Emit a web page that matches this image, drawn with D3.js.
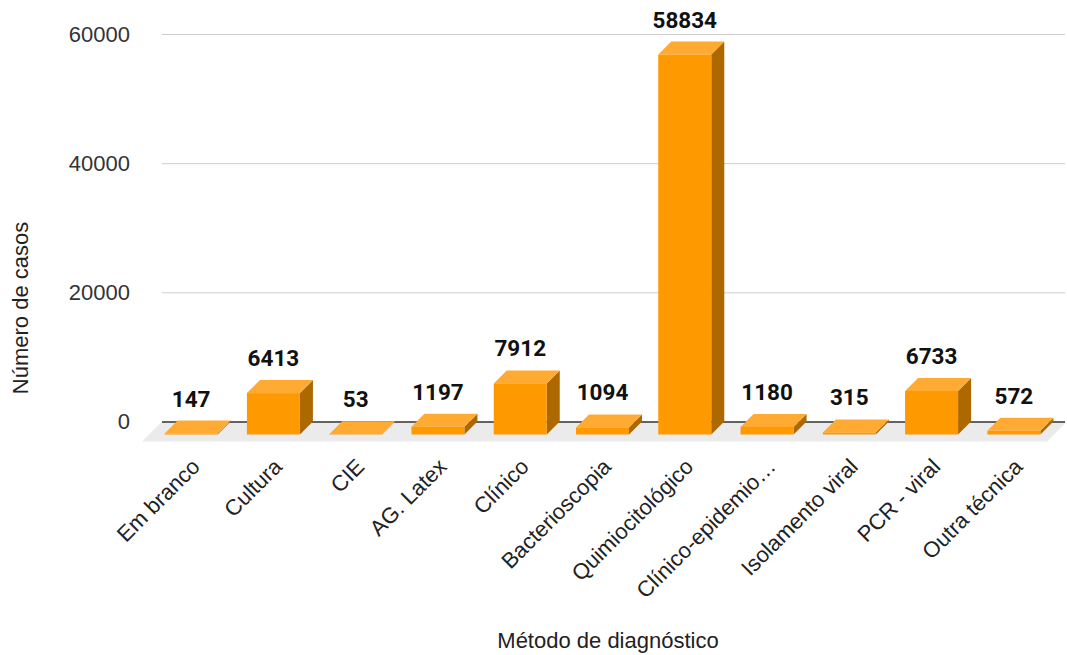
<!DOCTYPE html>
<html>
<head>
<meta charset="utf-8">
<script src="https://cdn.jsdelivr.net/npm/d3@7"></script>
<style>
  body { margin: 0; background: #fff; }
  text { font-family: "Liberation Sans", Arial, sans-serif; }
</style>
</head>
<body>
<div id="chart"></div>
<script>
// data
const categories = ["Em branco", "Cultura", "CIE", "AG. Latex", "Clínico", "Bacterioscopia",
  "Quimiocitológico", "Clínico-epidemio…", "Isolamento viral", "PCR - viral", "Outra técnica"];
const casos = [147, 6413, 53, 1197, 7912, 1094, 58834, 1180, 315, 6733, 572];
const yTicks = [0, 20000, 40000, 60000];

const W = 1067, H = 655;
const plotLeft = 162, plotRight = 1065, plotTop = 34, base = 421.5;
const depth = 13;      // 3D offset of the front face (left and down)
const barW = 53;

const svg = d3.select("#chart").append("svg")
  .attr("width", W).attr("height", H);

const x = d3.scaleBand().domain(categories).range([plotLeft + 1, plotRight + 3]);
const y = d3.scaleLinear().domain([0, 60000]).range([base, plotTop]);

// floor
svg.append("polygon")
  .attr("points", [[plotLeft, base], [W, base], [W - 20, base + 20], [plotLeft - 20, base + 20]].join(" "))
  .style("fill", "#ebebeb");

// gridlines + tick labels
const yAxis = svg.append("g")
  .attr("transform", `translate(${plotLeft},0)`)
  .call(d3.axisLeft(y).tickValues(yTicks).tickFormat(d3.format("d"))
    .tickSize(-(plotRight - plotLeft)).tickPadding(32));
yAxis.select(".domain").remove();
yAxis.selectAll("line").style("stroke", d => d === 0 ? "#333" : "#ccc").style("stroke-width", d => d === 0 ? 1.5 : 1);
yAxis.selectAll("text").style("font-size", "22px").style("fill", "#333");

// bars
const bars = svg.selectAll(".bar").data(casos).enter().append("g").attr("class", "bar");
const bx0 = (d, i) => x(categories[i]) + (x.bandwidth() - barW) / 2;
const bx1 = (d, i) => bx0(d, i) + barW;

bars.append("polygon") // side
  .attr("points", (d, i) => [[bx1(d, i), y(d)], [bx1(d, i), base], [bx1(d, i) - depth, base + depth], [bx1(d, i) - depth, y(d) + depth]].join(" "))
  .style("fill", "#ad6800");
bars.append("polygon") // top
  .attr("points", (d, i) => [[bx0(d, i), y(d)], [bx1(d, i), y(d)], [bx1(d, i) - depth, y(d) + depth], [bx0(d, i) - depth, y(d) + depth]].join(" "))
  .style("fill", "#ffab33");
bars.append("rect") // front
  .attr("x", (d, i) => bx0(d, i) - depth)
  .attr("y", d => y(d) + depth)
  .attr("width", barW)
  .attr("height", d => base - y(d))
  .style("fill", "#ff9900");

// value labels
bars.append("text")
  .attr("x", (d, i) => bx0(d, i) - depth + barW / 2)
  .attr("y", d => y(d) - 14)
  .attr("text-anchor", "middle")
  .style("font-family", "Roboto, sans-serif")
  .style("font-size", "22.5px").style("font-weight", "bold").style("fill", "#111")
  .text(d => d);

// category labels
const xAxis = svg.append("g")
  .attr("transform", "translate(0,468)")
  .call(d3.axisBottom(x).tickSize(0).tickPadding(0));
xAxis.select(".domain").remove();
xAxis.selectAll("text")
  .attr("y", 0).attr("dy", 0)
  .attr("transform", "translate(-3,0) rotate(-45)")
  .style("text-anchor", "end")
  .style("font-size", "22px").style("fill", "#222");

// axis titles
svg.append("text")
  .attr("x", 608).attr("y", 648)
  .attr("text-anchor", "middle")
  .style("font-size", "22px").style("fill", "#222")
  .text("Método de diagnóstico");
svg.append("text")
  .attr("transform", "translate(28,308) rotate(-90)")
  .attr("text-anchor", "middle")
  .style("font-size", "22px").style("fill", "#222")
  .text("Número de casos");
</script>
</body>
</html>
